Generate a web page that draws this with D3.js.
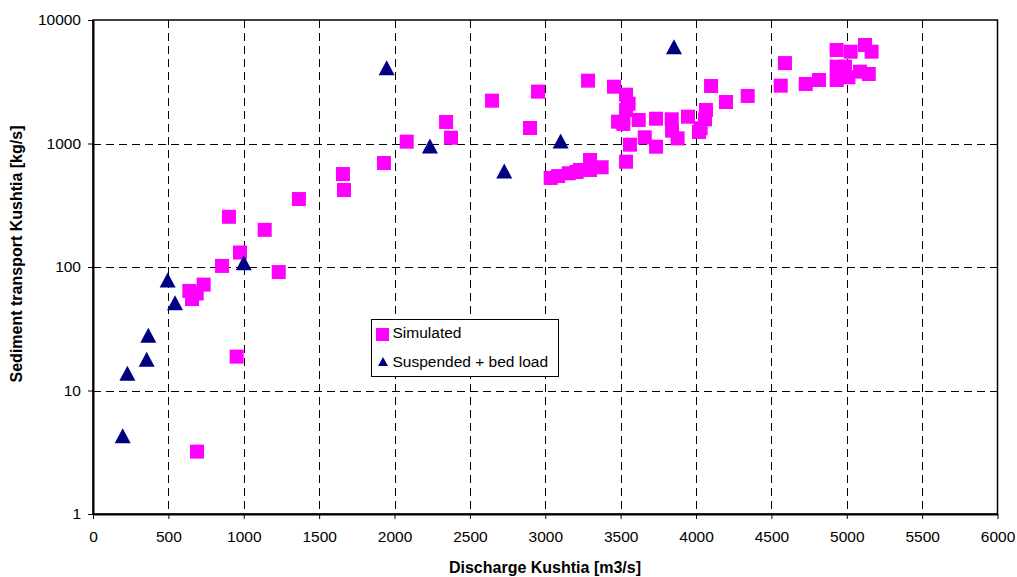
<!DOCTYPE html>
<html>
<head>
<meta charset="utf-8">
<script src="https://cdn.jsdelivr.net/npm/d3@7"></script>
<style>
  body { margin: 0; background: #fff; }
  svg { display: block; font-family: "Liberation Sans", Arial, sans-serif; }
  .axis text { font-size: 15.5px; fill: #000; }
  .axis path, .axis line { stroke: #000; }
  .grid line { stroke: #000; stroke-dasharray: 8,5; shape-rendering: crispEdges; }
  .title { font-size: 16px; font-weight: bold; }
  .legend text { font-size: 15.5px; }
</style>
</head>
<body>
<svg width="1017" height="577"></svg>
<script>
// simulated sediment transport [discharge m3/s, transport kg/s]
var simDischarge = [690, 953, 639, 688, 657, 734, 856, 902, 975, 1139, 1232, 1366,
  1658, 1665, 1930, 2081, 2342, 2375, 2647, 2899, 2952,
  3036, 3085, 3156, 3208, 3230, 3297, 3297, 3374, 3284, 3456, 3536, 3553, 3536,
  3483, 3518, 3536, 3562, 3620, 3660, 3735, 3735, 3839, 3841, 3878, 3947,
  4020, 4031, 4060, 4066, 4100, 4199, 4343, 4562, 4590, 4728, 4816,
  4933, 5026, 5121, 5165, 4933, 4988, 4933, 5011, 5088, 5146];
var simTransport = [3.2, 18.8, 64, 61, 55, 72, 102, 255, 131, 200, 91, 355,
  566, 420, 695, 1035, 1494, 1114, 2222, 1335, 2630,
  526, 545, 574, 588, 610, 735, 610, 642, 3226, 2884, 2485, 2100, 1868,
  1502, 1440, 712, 978, 1550, 1122, 1588, 942, 1570, 1270, 1100, 1648,
  1240, 1328, 1570, 1868, 2922, 2168, 2426, 2940, 4480, 3033, 3267,
  5715, 5540, 6280, 5540, 4188, 4188, 3267, 3436, 3816, 3654];

// measured suspended + bed load
var obsDischarge = [197, 228, 356, 367, 495, 544, 1000, 1948, 2235, 2728, 3102, 3854];
var obsTransport = [4.3, 13.8, 17.9, 28, 78.5, 51.4, 108, 4110, 954, 599, 1048, 6080];

var xTicks = [0, 500, 1000, 1500, 2000, 2500, 3000, 3500, 4000, 4500, 5000, 5500, 6000];
var yTicks = [1, 10, 100, 1000, 10000];

var margin = { top: 20, right: 19.5, bottom: 63, left: 93 };
var svg = d3.select("svg");
var width = +svg.attr("width") - margin.left - margin.right;
var height = +svg.attr("height") - margin.top - margin.bottom;
var g = svg.append("g")
  .attr("transform", "translate(" + margin.left + "," + margin.top + ")");

var x = d3.scaleLinear().domain([0, 6000]).range([0, width]);
var y = d3.scaleLog().domain([1, 10000]).range([height, 0]);

// grid
g.append("g").attr("class", "grid")
  .selectAll("line.v")
  .data(xTicks.slice(1, -1))
  .enter().append("line")
    .attr("x1", function(d) { return Math.round(x(d)) + 0.5; })
    .attr("x2", function(d) { return Math.round(x(d)) + 0.5; })
    .attr("y1", 0)
    .attr("y2", height);

g.append("g").attr("class", "grid")
  .selectAll("line.h")
  .data(yTicks.slice(1, -1))
  .enter().append("line")
    .attr("x1", 0)
    .attr("x2", width)
    .attr("y1", function(d) { return Math.round(y(d)) + 0.5; })
    .attr("y2", function(d) { return Math.round(y(d)) + 0.5; });

// plot border
g.append("rect")
  .attr("width", width)
  .attr("height", height)
  .attr("fill", "none")
  .attr("stroke", "#000")
  .attr("stroke-width", 1.5);

// axes
g.append("g")
  .attr("class", "axis")
  .attr("transform", "translate(0," + height + ")")
  .call(d3.axisBottom(x).tickValues(xTicks).tickFormat(d3.format("d"))
    .tickSize(5).tickSizeOuter(0).tickPadding(12))
  .call(function(s) { s.select(".domain").attr("stroke-width", 2); });

g.append("g")
  .attr("class", "axis")
  .call(d3.axisLeft(y).tickValues(yTicks).tickFormat(d3.format("d"))
    .tickSize(5).tickSizeOuter(0).tickPadding(7))
  .call(function(s) { s.select(".domain").attr("stroke-width", 2); });

// triangle centred on its bounding box
function triangle(w, h) {
  return "M0," + (-h / 2) + "L" + (w / 2) + "," + (h / 2) + "L" + (-w / 2) + "," + (h / 2) + "Z";
}

var sim = simDischarge.map(function(d, i) { return [d, simTransport[i]]; });
var obs = obsDischarge.map(function(d, i) { return [d, obsTransport[i]]; });

g.append("g").selectAll("rect")
  .data(sim)
  .enter().append("rect")
    .attr("x", function(d) { return x(d[0]) - 7; })
    .attr("y", function(d) { return y(d[1]) - 7; })
    .attr("width", 14)
    .attr("height", 14)
    .attr("fill", "#FF00FF");

g.append("g").selectAll("path")
  .data(obs)
  .enter().append("path")
    .attr("transform", function(d) { return "translate(" + x(d[0]) + "," + y(d[1]) + ")"; })
    .attr("d", triangle(16, 15))
    .attr("fill", "#000080");

// axis titles
svg.append("text")
  .attr("class", "title")
  .attr("x", 545)
  .attr("y", 573)
  .attr("text-anchor", "middle")
  .text("Discharge Kushtia [m3/s]");

svg.append("text")
  .attr("class", "title")
  .attr("transform", "translate(22,254) rotate(-90)")
  .attr("text-anchor", "middle")
  .text("Sediment transport Kushtia [kg/s]");

// legend
var legend = svg.append("g").attr("class", "legend")
  .attr("transform", "translate(371.5,319.5)");

legend.append("rect")
  .attr("width", 187)
  .attr("height", 57)
  .attr("fill", "#fff")
  .attr("stroke", "#000");

legend.append("rect")
  .attr("x", 4.5).attr("y", 8.5)
  .attr("width", 13).attr("height", 13)
  .attr("fill", "#FF00FF");
legend.append("text")
  .attr("x", 21).attr("y", 13).attr("dy", "0.35em")
  .text("Simulated");

legend.append("path")
  .attr("transform", "translate(11.5,42)")
  .attr("d", triangle(10, 9))
  .attr("fill", "#000080");
legend.append("text")
  .attr("x", 21).attr("y", 42).attr("dy", "0.35em")
  .text("Suspended + bed load");
</script>
</body>
</html>
